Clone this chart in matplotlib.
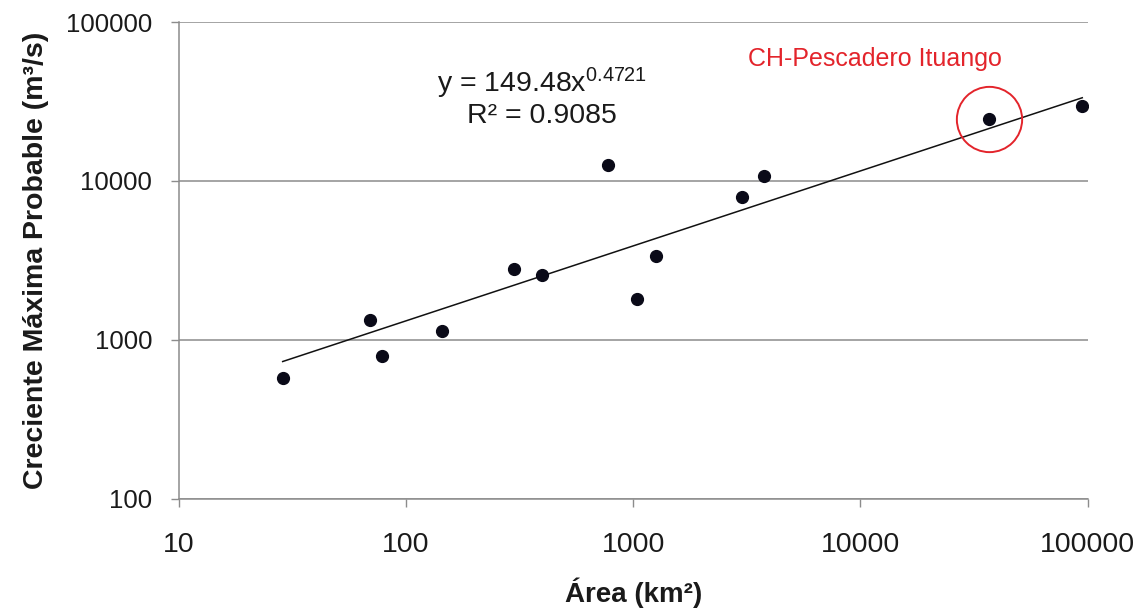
import numpy as np
import matplotlib
matplotlib.use("Agg")
import matplotlib.pyplot as plt

plt.rcParams['font.family'] = ['Liberation Sans', 'DejaVu Sans']
plt.rcParams['mathtext.fontset'] = 'custom'
plt.rcParams['mathtext.rm'] = 'Liberation Sans'
plt.rcParams['mathtext.it'] = 'Liberation Sans:italic'
plt.rcParams['mathtext.bf'] = 'Liberation Sans:bold'

# datos (area km2, creciente m3/s)
area = [28.7, 69.5, 78.7, 143.6, 299.5, 399, 771, 1044, 1257, 3012, 3763, 36730, 94600]
caudal = [571, 1330, 790, 1134, 2788, 2555, 12593, 1805, 3366, 7882, 10737, 24430, 29630]
ituango = (36730, 24430)

# ajuste potencial y = a x^b
a, b = 149.48, 0.4721
xticks = [10, 100, 1000, 10000, 100000]
yticks = [100, 1000, 10000, 100000]

fig = plt.figure(figsize=(11.45, 6.14), dpi=100)
ax = fig.add_axes([0.156, 0.188, 0.794, 0.776])

ax.set_xscale('log')
ax.set_yscale('log')
ax.set_xlim(10, 100000)
ax.set_ylim(100, 100000)

ax.yaxis.grid(True, color='#8c8c8c', linewidth=1.1)
ax.set_axisbelow(True)

xs = np.logspace(np.log10(min(area)), np.log10(max(area)), 100)
ax.plot(xs, a * xs ** b, color='#111111', linewidth=1.1, zorder=2)
ax.plot(area, caudal, 'o', color='#0a0a18', markersize=8.5, zorder=3)

# circulo rojo
ax.plot([ituango[0]], [ituango[1]], 'o', markersize=47, markerfacecolor='none',
        markeredgecolor='#e3242b', markeredgewidth=1.4, zorder=4)

ax.set_xticks(xticks)
ax.set_xticklabels([str(v) for v in xticks])
ax.set_yticks(yticks)
ax.set_yticklabels([str(v) for v in yticks])
ax.minorticks_off()
ax.tick_params(axis='both', which='major', colors='#8c8c8c',
               labelcolor='#1a1a1a', length=6, width=1)
ax.tick_params(axis='x', labelsize=20.5, pad=18)
ax.tick_params(axis='y', labelsize=18.5, pad=13)

for s in ['top', 'right']:
    ax.spines[s].set_visible(False)
for s in ['left', 'bottom']:
    ax.spines[s].set_color('#8c8c8c')
    ax.spines[s].set_linewidth(1.1)

ax.set_ylabel('Creciente Máxima Probable (m³/s)', fontsize=20.5, fontweight='bold',
              color='#1a1a1a', labelpad=12)
ax.set_xlabel('Área (km²)', fontsize=20, fontweight='bold', color='#1a1a1a', labelpad=14)

ax.text(0.3996, 0.853, r'y = 149.48x$^{\mathrm{0.4721}}$', transform=ax.transAxes,
        ha='center', va='baseline', fontsize=20.5, color='#1a1a1a')
ax.text(0.3996, 0.788, 'R² = 0.9085', transform=ax.transAxes,
        ha='center', va='baseline', fontsize=20.5, color='#1a1a1a')

ax.text(0.626, 0.907, 'CH-Pescadero Ituango', transform=ax.transAxes,
        ha='left', va='baseline', fontsize=18, color='#e3242b')

fig.savefig('out.png', dpi=100)
